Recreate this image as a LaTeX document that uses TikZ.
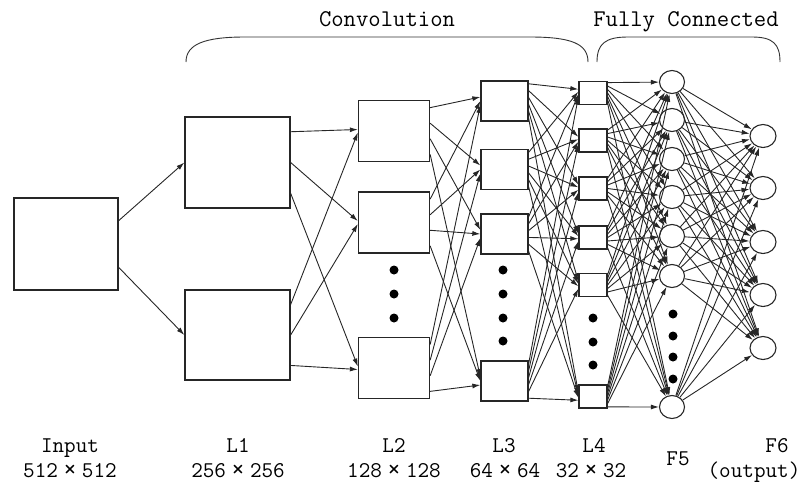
\documentclass[tikz,border=0pt]{standalone}
\usepackage{fontspec}
\usetikzlibrary{arrows.meta,calc,shapes.geometric}
\newcommand\tms{\makebox[24pt]{\smash{\raisebox{-0.5pt}{\fontsize{26}{26}\selectfont ×}}}}
% #1 sources, #2 number of sources, #3 targets, #4 number of targets, #5 spread at target
\newcommand\linklayers[5]{%
  \foreach \s [count=\i from 0] in {#1} {%
    \foreach \t [count=\j from 0] in {#3} {%
      \pgfmathsetmacro\f{(\j+0.5)/#4}%
      \pgfmathsetmacro\o{(\i-(#2-1)/2)*#5}%
      \draw[conn] ($(\s.north east)!\f!(\s.south east)$) -- ($(\t.west)+(0,\o)$);
    }%
  }%
}
\newcommand\linktocircles[4]{%
  \foreach \s [count=\i from 0] in {#1} {%
    \foreach \t [count=\j from 0] in {#3} {%
      \pgfmathsetmacro\f{(\j+0.5)/#4}%
      \draw[conn] ($(\s.north east)!\f!(\s.south east)$) -- (\t);
    }%
  }%
}
\begin{document}
\begin{tikzpicture}[x=1pt,y=-1pt,
  box/.style={draw=black!85,line width=1.3pt,fill=white,inner sep=0pt},
  neuron/.style={draw=black!85,line width=1.1pt,ellipse,fill=white,minimum width=25pt,minimum height=23pt,inner sep=0pt},
  conn/.style={draw=black!85,line width=0.9pt,-{Latex[length=8pt,width=5pt]}},
  dotm/.style={circle,fill=black,inner sep=0pt,minimum size=9pt},
  lbl/.style={font=\ttfamily\fontsize{22.5}{24}\selectfont,anchor=base,inner sep=0pt},
  toplbl/.style={font=\ttfamily\fontsize{24}{26}\selectfont,anchor=base,inner sep=0pt},
  brace/.style={draw=black!80,line width=0.9pt}]
\useasboundingbox (0,0) rectangle (804,483);

% Input
\node[box,minimum width=104pt,minimum height=92pt] (inp) at (66,244) {};
% L1
\node[box,minimum width=105pt,minimum height=91pt] (l1a) at (237.5,162.5) {};
\node[box,minimum width=105pt,minimum height=90pt] (l1b) at (237.5,335) {};
% L2
\foreach \n/\y in {l2a/131,l2b/222.5,l2c/368}
  \node[box,minimum width=71pt,minimum height=61pt] (\n) at (394,\y) {};
% L3
\foreach \n/\y in {l3a/101,l3b/169.5,l3c/234,l3d/381}
  \node[box,minimum width=47pt,minimum height=40pt] (\n) at (504.5,\y) {};
% L4
\foreach \n/\y in {l4a/93,l4b/140.5,l4c/188.5,l4d/237.5,l4e/285,l4f/396.5}
  \node[box,minimum width=28pt,minimum height=23pt] (\n) at (593,\y) {};
% F5
\foreach \n/\y in {f5a/82,f5b/120,f5c/159,f5d/197,f5e/236,f5f/276,f5g/407}
  \node[neuron] (\n) at (672,\y) {};
% F6
\foreach \n/\y in {f6a/136,f6b/188,f6c/242,f6d/295,f6e/348}
  \node[neuron,minimum width=26pt] (\n) at (763,\y) {};

% ellipsis dots
\foreach \y [count=\k] in {270,294,318} \node[dotm] (d2\k) at (394,\y) {};
\foreach \y [count=\k] in {270,294,318,341} \node[dotm] (d3\k) at (503,\y) {};
\foreach \y [count=\k] in {318,342,365} \node[dotm] (d4\k) at (593,\y) {};
\foreach \y [count=\k] in {314,336,357,379} \node[dotm] (d5\k) at (673,\y) {};

% connectors
\linklayers{inp}{1}{l1a,l1b}{2}{0}
\linklayers{l1a,l1b}{2}{l2a,l2b,l2c}{3}{3}
\linklayers{l2a,l2b,l2c}{3}{l3a,l3b,l3c,l3d}{4}{4}
\linklayers{l3a,l3b,l3c,l3d}{4}{l4a,l4b,l4c,l4d,l4e,l4f}{6}{2.5}
\linktocircles{l4a,l4b,l4c,l4d,l4e,l4f}{6}{f5a,f5b,f5c,f5d,f5e,f5f,f5g}{7}
\foreach \s in {f5a,f5b,f5c,f5d,f5e,f5f,f5g}
  \foreach \t in {f6a,f6b,f6c,f6d,f6e}
    \draw[conn] (\s) -- (\t);

% braces
\draw[brace] (186,62) .. controls (186,44) and (205,37) .. (245,37) -- (530,37) .. controls (572,37) and (588,44) .. (588,62);
\draw[brace] (597,62) .. controls (597,44) and (605,37) .. (628,37) -- (752,37) .. controls (773,37) and (780,44) .. (780,62);

% labels
\node[toplbl] (tconv) at (387,26) {Convolution};
\node[toplbl] (tfc) at (686,26) {Fully Connected};

\node[lbl] (tin) at (70,452) {Input};
\node[lbl] (sin) at (70,477) {512\tms512};
\node[lbl] (tl1) at (238,452) {L1};
\node[lbl] (sl1) at (238,477) {256\tms256};
\node[lbl] (tl2) at (394,452) {L2};
\node[lbl] (sl2) at (394,477) {128\tms128};
\node[lbl] (tl3) at (504,452) {L3};
\node[lbl] (sl3) at (505,477) {64\tms64};
\node[lbl] (tl4) at (594,452) {L4};
\node[lbl] (sl4) at (591,477) {32\tms32};
\node[lbl] (tf5) at (678,465) {F5};
\node[lbl] (tf6) at (777,452) {F6};
\node[lbl] (sf6) at (754,477) {\makebox[16pt][r]{(}output\makebox[16pt][l]{)}};
\end{tikzpicture}
\end{document}
